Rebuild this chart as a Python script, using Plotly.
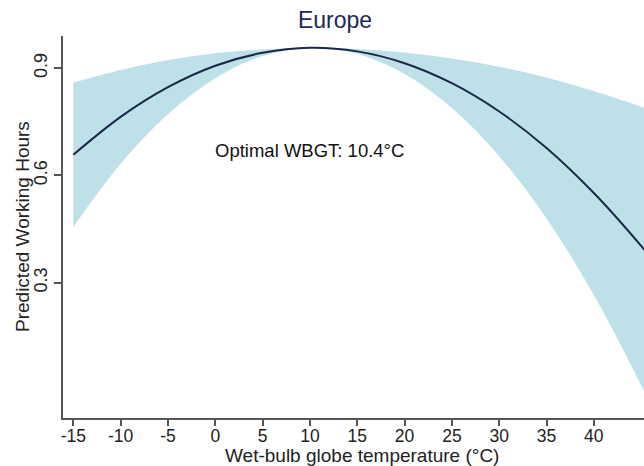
import plotly.graph_objects as go

# Data
temperature = [-15, -10, -5, 0, 5, 10, 15, 20, 25, 30, 35, 40, 45, 46]
predicted = [0.658, 0.764, 0.847, 0.907, 0.943, 0.957, 0.947, 0.914, 0.858, 0.779, 0.677, 0.551, 0.403, 0.370]
ci_upper = [0.860, 0.895, 0.923, 0.942, 0.952, 0.958, 0.954, 0.944, 0.927, 0.904, 0.874, 0.836, 0.792, 0.782]
ci_lower = [0.456, 0.633, 0.771, 0.872, 0.934, 0.956, 0.940, 0.884, 0.789, 0.654, 0.480, 0.266, 0.014, -0.042]

x_ticks = [-15, -10, -5, 0, 5, 10, 15, 20, 25, 30, 35, 40]
x_tick_labels = ["-15", "-10", "-5", "0", "5", "10", "15", "20", "25", "30", "35", "40"]
y_ticks = [0.3, 0.6, 0.9]
y_tick_labels = ["0.3", "0.6", "0.9"]

band_color = "rgb(190,224,232)"
line_color = "#1b2748"
axis_color = "#555555"
font_family = "Liberation Sans, Arial, sans-serif"

fig = go.Figure()
fig.add_trace(go.Scatter(x=temperature, y=ci_lower, mode="lines",
                         line=dict(width=0, color=band_color, shape="spline"),
                         showlegend=False, hoverinfo="skip"))
fig.add_trace(go.Scatter(x=temperature, y=ci_upper, mode="lines",
                         line=dict(width=0, color=band_color, shape="spline"),
                         fill="tonexty", fillcolor=band_color,
                         showlegend=False, hoverinfo="skip"))
fig.add_trace(go.Scatter(x=temperature, y=predicted, mode="lines",
                         line=dict(width=2, color=line_color, shape="spline"),
                         showlegend=False))

fig.update_layout(
    width=644, height=466,
    margin=dict(l=63, r=0, t=36, b=48),
    paper_bgcolor="white", plot_bgcolor="white",
    font=dict(family=font_family, color="#222222"),
    title=dict(text="Europe", x=335/644, xref="container", xanchor="center",
               y=1 - 20/466, yref="container", yanchor="middle",
               font=dict(size=23, color="#1c2a55", family=font_family)),
    xaxis=dict(range=[-16.09, 45.3], tickvals=x_ticks, ticktext=x_tick_labels,
               showgrid=False, zeroline=False,
               showline=True, linecolor=axis_color, linewidth=1.5,
               ticks="outside", ticklen=6, tickcolor=axis_color, tickwidth=1.5,
               ticklabelstandoff=-5,
               tickfont=dict(size=17.5, color="#222222")),
    yaxis=dict(range=[-0.078, 0.99], tickvals=y_ticks, ticktext=y_tick_labels,
               showgrid=False, zeroline=False,
               showline=True, linecolor=axis_color, linewidth=1.5,
               ticks="outside", ticklen=7, tickcolor=axis_color, tickwidth=1.5,
               tickangle=-90, tickfont=dict(size=18, color="#222222")),
    annotations=[
        dict(text="Optimal WBGT: 10.4°C", x=10.0, y=0.669, xref="x", yref="y",
             showarrow=False, xanchor="center", yanchor="middle",
             font=dict(size=18.5, color="#111111")),
        dict(text="Wet-bulb globe temperature (°C)", x=(361.5-63)/581, xref="paper",
             y=-50/382, yref="paper", xanchor="center", yanchor="bottom",
             showarrow=False, font=dict(size=19, color="#222222")),
        dict(text="Predicted Working Hours", x=(22-63)/581, xref="paper",
             y=(418-227)/382, yref="paper", xanchor="center", yanchor="middle",
             textangle=-90, showarrow=False, font=dict(size=19, color="#222222")),
    ],
)

fig.write_html("out.html")
